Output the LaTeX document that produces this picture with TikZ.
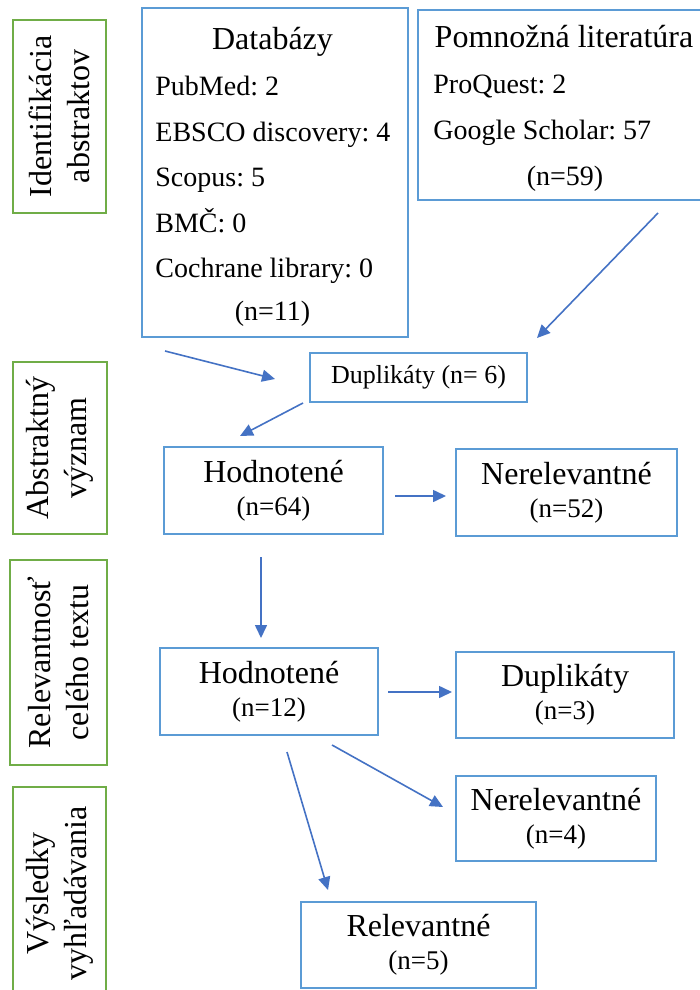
\documentclass[tikz,border=0pt]{standalone}
\usepackage{fontspec}
\setmainfont{Liberation Serif}
\usetikzlibrary{arrows.meta}
\definecolor{boxblue}{RGB}{91,155,213}
\definecolor{arrowblue}{RGB}{68,114,196}
\definecolor{stagegreen}{RGB}{112,173,71}
\newcommand{\ncount}[1]{{\fontsize{13.5}{16.5}\selectfont (n=#1)}}
\frenchspacing

\begin{document}
\begin{tikzpicture}[x=.5pt,y=-.5pt,
    bluebox/.style={draw=boxblue,line width=.85pt,align=center,inner sep=0pt,
      font=\fontsize{16}{16.5}\selectfont},
    stage/.style={draw=stagegreen,line width=1.35pt,rotate=90,align=center,
      inner sep=0pt,font=\fontsize{16}{19}\selectfont},
    item/.style={anchor=base west,inner sep=0pt,font=\fontsize{14}{17}\selectfont},
    head/.style={anchor=base,inner sep=0pt,font=\fontsize{16}{19}\selectfont},
    flow/.style={draw=arrowblue,line width=.8pt,-{Triangle[length=6.5pt,width=6pt]}}]
  \useasboundingbox (0,0) rectangle (700,990);
  % stages
  \node[stage,minimum width=96.5pt,minimum height=46.5pt] (ident) at (59.5,116.5)
    {Identifikácia\\abstraktov};
  \node[stage,minimum width=86pt,minimum height=47pt] (abstr) at (60,448)
    {Abstraktný\\význam};
  \node[stage,minimum width=102.5pt,minimum height=48.5pt] (relev) at (58.5,662.5)
    {Relevantnosť\\celého textu};
  \node[stage,minimum width=106.5pt,minimum height=46.5pt] (vysl) at (59.5,893.5)
    {Výsledky\\vyhľadávania};
  % sources
  \node[bluebox,minimum width=133pt,minimum height=164.5pt] (db) at (275,172.5) {};
  \node[head] (dbhead) at (272.5,50) {Databázy};
  \foreach \t [count=\i] in {PubMed: 2,EBSCO discovery: 4,Scopus: 5,BMČ: 0,
      Cochrane library: 0}
    \node[item] (db\i) at (155,50+45.5*\i) {\t};
  \node[item,anchor=base] (dbn) at (272.5,320) {(n=11)};
  \node[bluebox,minimum width=147pt,minimum height=95pt] (pom) at (565,105) {};
  \node[head] (pomhead) at (564,48) {Pomnožná literatúra};
  \node[item] (pom1) at (433,94) {ProQuest: 2};
  \node[item] (pom2) at (433,139.5) {Google Scholar: 57};
  \node[item,anchor=base] (pomn) at (565,185) {(n=59)};
  % screening
  \node[bluebox,minimum width=108.5pt,minimum height=24.5pt,
    font=\fontsize{13}{16}\selectfont] (dup6) at (418.5,377.5) {Duplikáty (n= 6)};
  \node[bluebox,minimum width=109.5pt,minimum height=43.5pt] (hod64) at (273.5,490.5)
    {Hodnotené\\\ncount{64}};
  \node[bluebox,minimum width=110.5pt,minimum height=43.5pt] (ner52) at (566.5,492.5)
    {Nerelevantné\\\ncount{52}};
  \node[bluebox,minimum width=109pt,minimum height=43.5pt] (hod12) at (269,691.5)
    {Hodnotené\\\ncount{12}};
  \node[bluebox,minimum width=109pt,minimum height=43pt] (dup3) at (565,695)
    {Duplikáty\\\ncount{3}};
  \node[bluebox,minimum width=100pt,minimum height=42.5pt] (ner4) at (556,818.5)
    {Nerelevantné\\\ncount{4}};
  \node[bluebox,minimum width=117.5pt,minimum height=43pt] (rel5) at (418.5,945)
    {Relevantné\\\ncount{5}};
  % arrow ends
  \coordinate (dbout) at (165,351);   \coordinate (dupinl) at (275,379);
  \coordinate (pomout) at (658,213);  \coordinate (dupinr) at (537,338);
  \coordinate (dupout) at (303,403);  \coordinate (hodin) at (240,436);
  \coordinate (h64out) at (395,496);  \coordinate (n52in) at (446,496);
  \coordinate (h64down) at (261,557); \coordinate (h12in) at (261,638);
  \coordinate (h12out) at (388,692);  \coordinate (d3in) at (452,692);
  \coordinate (h12diag) at (332,745); \coordinate (n4in) at (443,807);
  \coordinate (h12down) at (287,752); \coordinate (r5in) at (328,890);
  \draw[flow] (dbout) -- (dupinl);
  \draw[flow] (pomout) -- (dupinr);
  \draw[flow] (dupout) -- (hodin);
  \draw[flow] (h64out) -- (n52in);
  \draw[flow] (h64down) -- (h12in);
  \draw[flow] (h12out) -- (d3in);
  \draw[flow] (h12diag) -- (n4in);
  \draw[flow] (h12down) -- (r5in);
\end{tikzpicture}
\end{document}
